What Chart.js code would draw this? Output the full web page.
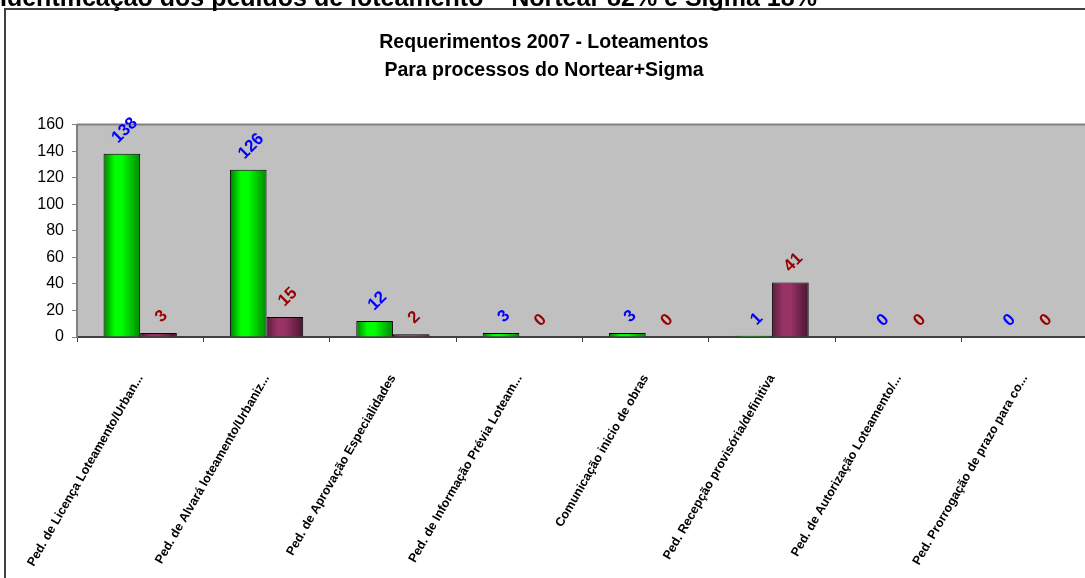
<!DOCTYPE html>
<html>
<head>
<meta charset="utf-8">
<script src="https://cdn.jsdelivr.net/npm/chart.js@4/dist/chart.umd.min.js"></script>
<style>
  html, body { margin: 0; padding: 0; background: #fff; overflow: hidden; }
  #wrap { position: relative; width: 1085px; height: 578px; overflow: hidden; }
  #topTitle {
    position: absolute; left: 0px; top: -15px; white-space: nowrap;
    font: bold 25px Arial, "Liberation Sans", sans-serif; line-height: 25px; color: #000;
  }
  #chart { position: absolute; left: 0; top: 0; }
</style>
</head>
<body>
<div id="wrap">
  <canvas id="chart" width="1095" height="578" style="width:1095px;height:578px"></canvas>
  <div id="topTitle">Identificação dos pedidos de loteamento – Nortear 82% e Sigma 18%</div>
</div>
<script>
// categorias e valores
const categorias = [
  'Ped. de Licença Loteamento/Urban...',
  'Ped. de Alvará loteamento/Urbaniz...',
  'Ped. de Aprovação Especialidades',
  'Ped. de Informação Prévia Loteam...',
  'Comunicação inicio de obras',
  'Ped. Recepção provisória/definitiva',
  'Ped. de Autorização Loteamento/...',
  'Ped. Prorrogação de prazo para co...'
];
const nortear = [138, 126, 12, 3, 3, 1, 0, 0];
const sigma = [3, 15, 2, 0, 0, 41, 0, 0];
const tituloLinhas = ['Requerimentos 2007 - Loteamentos', 'Para processos do Nortear+Sigma'];

const fonte = 'Arial, "Liberation Sans", sans-serif';

// gradiente horizontal de cada barra (estilo Excel)
const paradas = [
  [[0, '#007f00'], [0.3, '#00ff00'], [0.5, '#00ff00'], [1, '#008800']],
  [[0, '#5a1d3c'], [0.3, '#993366'], [0.5, '#993366'], [1, '#4a1530']]
];
const corRotulo = ['#0000ff', '#990000'];

const pluginFundo = {
  id: 'fundo',
  beforeDraw(chart) {
    const { ctx, chartArea: a } = chart;
    ctx.save();
    // moldura exterior
    ctx.strokeStyle = '#404040';
    ctx.lineWidth = 2;
    ctx.strokeRect(5, 9, 1300, 800);
    // área de plotagem cinzenta
    ctx.fillStyle = '#c0c0c0';
    ctx.fillRect(a.left, a.top, a.right - a.left, a.bottom - a.top);
    ctx.strokeStyle = '#808080';
    ctx.beginPath();
    ctx.moveTo(a.left, a.top);
    ctx.lineTo(a.right + 10, a.top);
    ctx.stroke();
    ctx.restore();
  },
  beforeDatasetsDraw(chart) {
    const ctx = chart.ctx;
    chart.data.datasets.forEach((ds, i) => {
      chart.getDatasetMeta(i).data.forEach(el => {
        const l = el.x - el.width / 2, r = el.x + el.width / 2;
        const g = ctx.createLinearGradient(l, 0, r, 0);
        paradas[i].forEach(p => g.addColorStop(p[0], p[1]));
        el.options = Object.assign({}, el.options, { backgroundColor: g });
      });
    });
  },
  afterDatasetsDraw(chart) {
    const ctx = chart.ctx;
    ctx.save();
    ctx.font = 'bold 17px ' + fonte;
    chart.data.datasets.forEach((ds, i) => {
      chart.getDatasetMeta(i).data.forEach((el, j) => {
        const txt = String(ds.data[j]);
        const w = ctx.measureText(txt).width;
        const cx = el.x + 2;
        const cy = el.y - 10 - (w + 12) * 0.7071 / 2;
        ctx.save();
        ctx.translate(cx, cy);
        ctx.rotate(-Math.PI / 4);
        ctx.fillStyle = corRotulo[i];
        ctx.textAlign = 'center';
        ctx.textBaseline = 'alphabetic';
        ctx.fillText(txt, 0, 6);
        ctx.restore();
      });
    });
    ctx.restore();
  }
};

new Chart(document.getElementById('chart'), {
  type: 'bar',
  data: {
    labels: categorias,
    datasets: [
      { label: 'Nortear', data: nortear, borderColor: '#000', borderWidth: 1 },
      { label: 'Sigma', data: sigma, borderColor: '#000', borderWidth: 1 }
    ]
  },
  options: {
    responsive: false,
    animation: false,
    categoryPercentage: 0.58,
    barPercentage: 1,
    layout: { padding: { left: 0, right: 7, top: 0, bottom: 0 } },
    plugins: {
      legend: { display: false },
      tooltip: { enabled: false },
      title: {
        display: true,
        text: tituloLinhas,
        color: '#000',
        font: { family: fonte, size: 19.5, weight: 'bold', lineHeight: 1.45 },
        padding: { top: 28, bottom: 40 }
      }
    },
    scales: {
      x: {
        afterFit(s) { s.height = 241; s.paddingLeft = 0; s.paddingRight = 0; },
        border: { color: '#404040', width: 2 },
        grid: { drawOnChartArea: false, tickLength: 5, color: '#404040', offset: true },
        ticks: {
          autoSkip: false, minRotation: 60, maxRotation: 60, padding: 30,
          color: '#000', font: { family: fonte, size: 12.5, weight: 'bold' }
        }
      },
      y: {
        min: 0, max: 160,
        afterFit(s) { s.width = 77; s.paddingTop = 0; s.paddingBottom = 0; },
        border: { color: '#808080', width: 2 },
        grid: { drawOnChartArea: false, tickLength: 5, color: '#808080' },
        ticks: { stepSize: 20, padding: 8, color: '#000', font: { family: fonte, size: 16 } }
      }
    }
  },
  plugins: [pluginFundo]
});
</script>
</body>
</html>
